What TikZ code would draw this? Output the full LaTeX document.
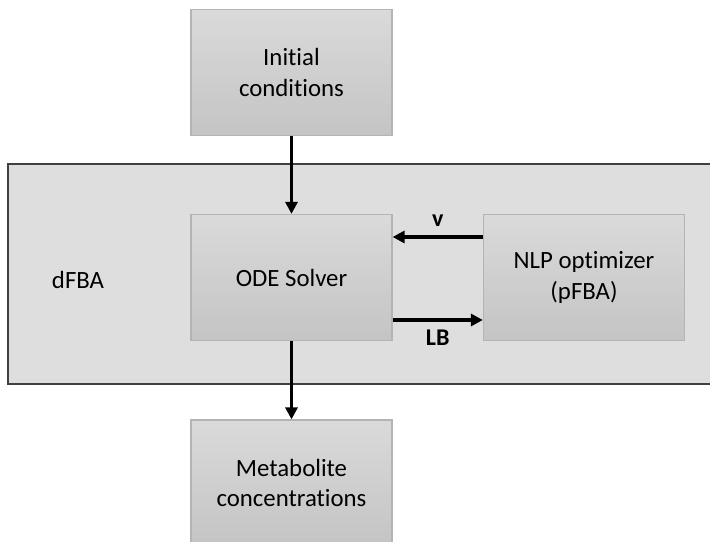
\documentclass[tikz,border=0pt]{standalone}
\usepackage{fontspec}
\setmainfont[Ligatures=NoCommon]{Carlito}
\usetikzlibrary{positioning,arrows.meta,calc}

\definecolor{boxtop}{RGB}{218,218,218}
\definecolor{boxbot}{RGB}{196,196,196}
\definecolor{boxline}{RGB}{180,180,180}
\definecolor{outerfill}{RGB}{222,222,222}
\definecolor{outerline}{RGB}{64,64,64}

\begin{document}
\begin{tikzpicture}[
  x=0.75pt,y=0.75pt,
  block/.style={rectangle,draw=boxline,line width=0.9pt,top color=boxtop,bottom color=boxbot,align=center,minimum width=150.75pt,minimum height=94.5pt,inner sep=0pt,font=\fontsize{18.6}{23}\selectfont},
  flow/.style={-{Triangle[length=9pt,width=9pt]},line width=2.3pt,black},
  flowlab/.style={font=\fontsize{18}{21}\selectfont\bfseries,inner sep=1pt},
]
\useasboundingbox (0,0) rectangle (710,542);
\clip (0,0) rectangle (710,542);

% dFBA frame - middle
\draw[draw=outerline,fill=outerfill,line width=0.8pt] (8,158) rectangle (730,378);
\node[font=\fontsize{18.6}{23}\selectfont] (dfba) at (78,262) {dFBA};

% Blocks
\node[block] (init) at (291.5,469.5) {Initial\\conditions};
\node[block] (ode) at (291.5,264.5) {ODE Solver};
\node[block] (nlp) at (584,264.5) {NLP optimizer\\(pFBA)};
\node[block] (meta) at (291.5,59) {Metabolite\\concentrations};

% Arrows
\draw[flow] (init) -- (ode);
\draw[flow] (ode) -- (meta);
\draw[flow] ($(nlp.west)+(0,40.5)$) -- ($(ode.east)+(0,40.5)$) node[flowlab,midway,above=6pt] (v) {v};
\draw[flow] ($(ode.east)+(0,-42.5)$) -- ($(nlp.west)+(0,-42.5)$) node[flowlab,midway,below=5pt] (lb) {LB};
\end{tikzpicture}
\end{document}
